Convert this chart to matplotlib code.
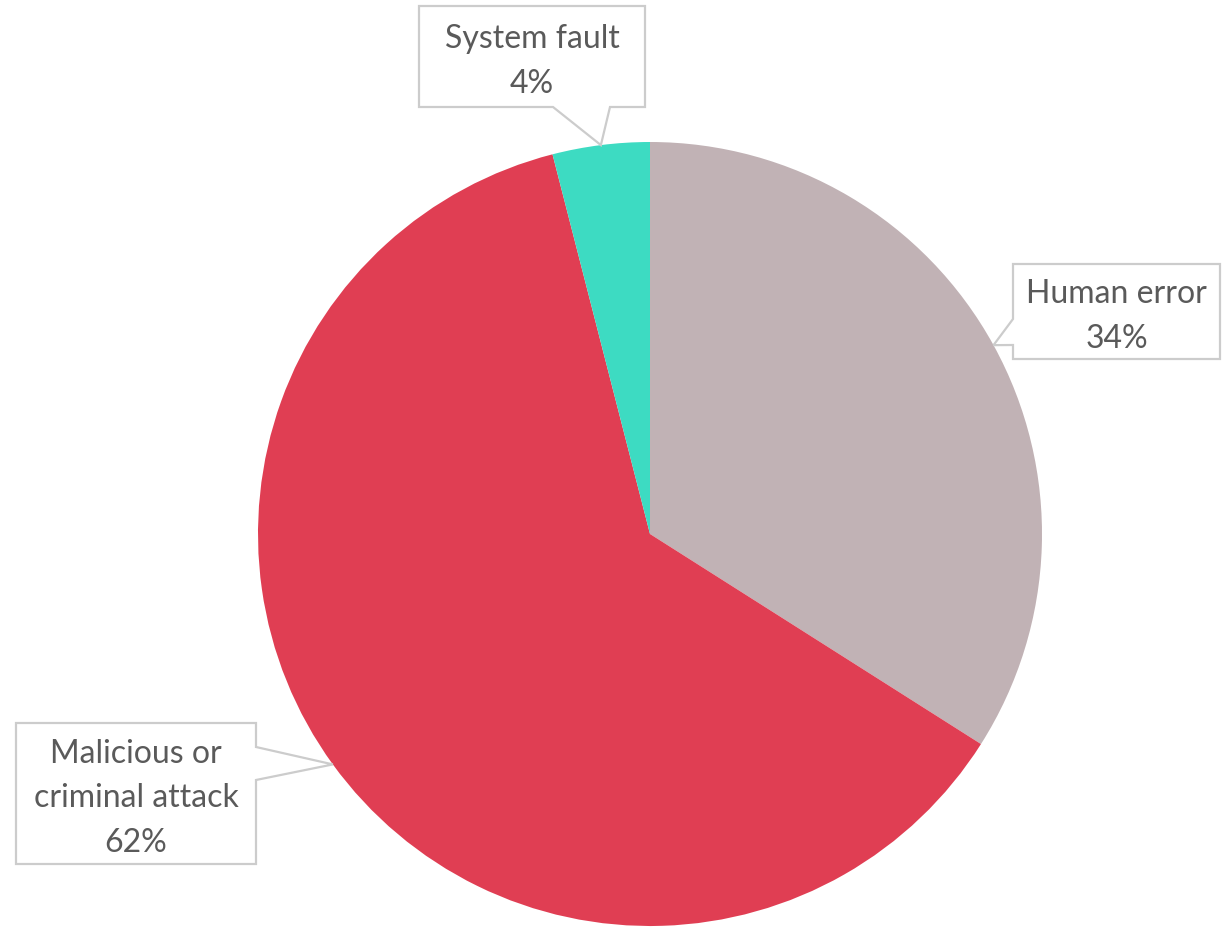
import numpy as np
import matplotlib
matplotlib.use("Agg")
import matplotlib.pyplot as plt
from matplotlib.patches import Polygon

labels = ["Human error", "Malicious or\ncriminal attack", "System fault"]
shares = [34, 62, 4]
colors = ["#C1B2B5", "#E03E53", "#3DDBC2"]

W, H = 1232, 928
CX, CY, R = 650, H - 535, 392

# callout boxes in pixel coords (x0, y0, x1, y1 from top), pointer side and base span
BOXES = [
    ((1013, 265, 1220, 360), "left", (320, 346)),
    ((16, 724, 256, 865), "right", (748, 781)),
    ((419, 7, 645, 108), "bottom", (553, 610)),
]

plt.rcParams["font.family"] = ["Source Sans Pro", "Lato", "DejaVu Sans"]

fig = plt.figure(figsize=(W / 100, H / 100), dpi=100)
ax = fig.add_axes([0, 0, 1, 1])

wedges, _ = ax.pie(shares, colors=colors, startangle=90, counterclock=False,
                   center=(CX, CY), radius=R, frame=True,
                   wedgeprops=dict(linewidth=0))
ax.set_xlim(0, W)
ax.set_ylim(0, H)
ax.set_aspect("equal")
ax.axis("off")


def callout(box, side, base, tip, text):
    x0, y0, x1, y1 = box
    y0, y1 = H - y0, H - y1  # flip to y-up; y0 top, y1 bottom
    tx, ty = tip
    if side == "left":
        b0, b1 = H - base[0], H - base[1]
        pts = [(x0, y0), (x1, y0), (x1, y1), (x0, y1), (x0, b1), (tx, ty), (x0, b0)]
    elif side == "right":
        b0, b1 = H - base[0], H - base[1]
        pts = [(x0, y0), (x1, y0), (x1, b0), (tx, ty), (x1, b1), (x1, y1), (x0, y1)]
    else:
        pts = [(x0, y0), (x1, y0), (x1, y1), (base[1], y1), (tx, ty), (base[0], y1), (x0, y1)]
    ax.add_patch(Polygon(pts, closed=True, facecolor="white", edgecolor="#CCCCCC",
                         lw=1.6, zorder=5))
    ax.text((x0 + x1) / 2, (y0 + y1) / 2 - 4, text, ha="center", va="center",
            fontsize=23, color="#5A5A5A", linespacing=1.62, zorder=6)


for w, lab, s, (box, side, base) in zip(wedges, labels, shares, BOXES):
    mid = np.deg2rad((w.theta1 + w.theta2) / 2)
    tip = (CX + R * np.cos(mid), CY + R * np.sin(mid))
    callout(box, side, base, tip, f"{lab}\n{s}%")

fig.savefig("out.png", dpi=100)
